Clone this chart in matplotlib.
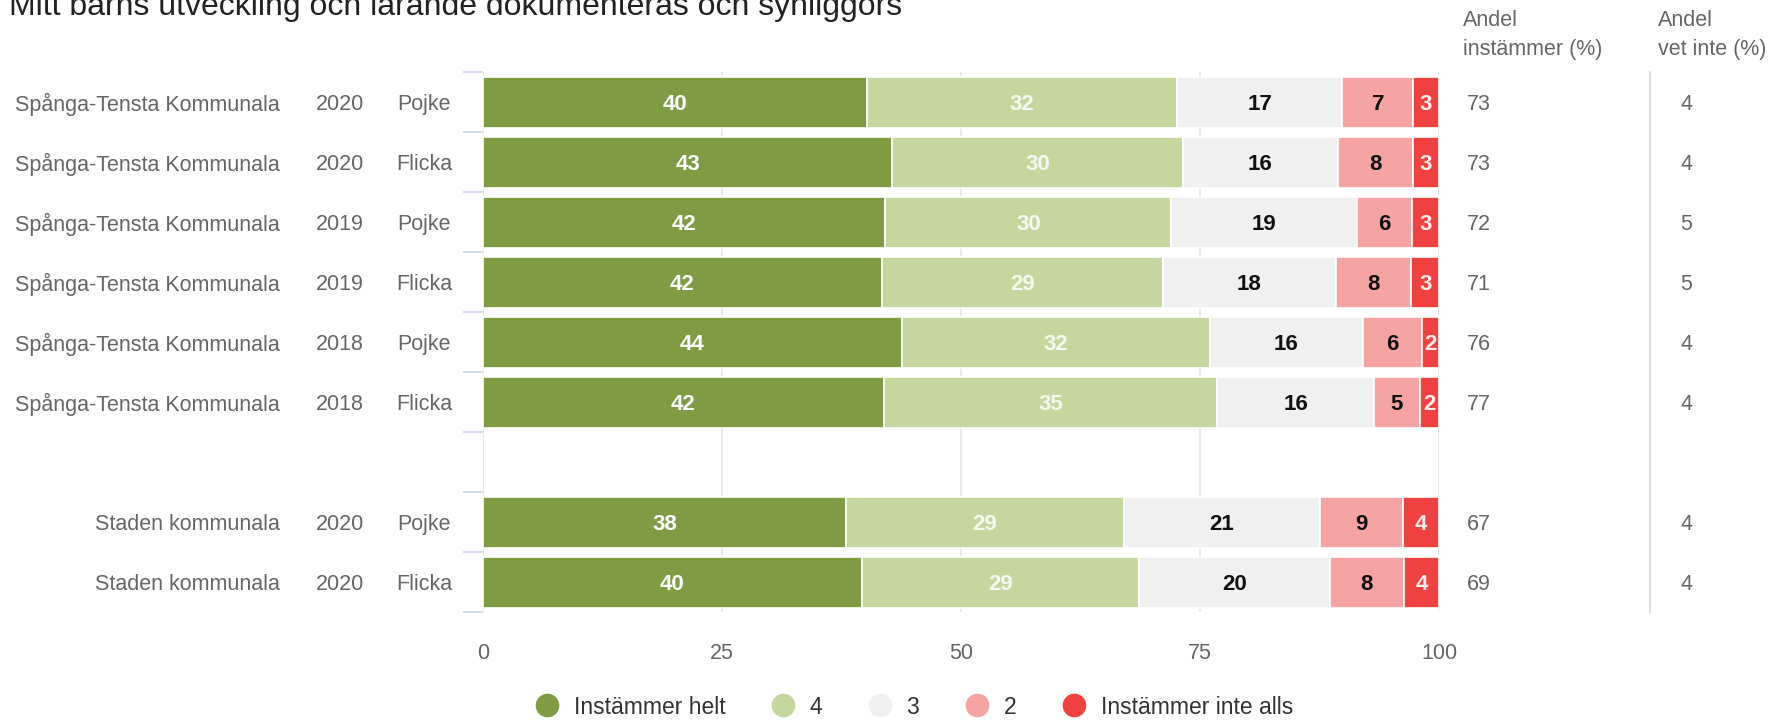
import matplotlib
matplotlib.use("Agg")
import matplotlib.pyplot as plt
from matplotlib.lines import Line2D

plt.rcParams['font.family'] = ['Liberation Sans', 'DejaVu Sans']

# ---- data ----
units = ["Spånga-Tensta Kommunala"] * 6 + ["Staden kommunala"] * 2
years = ["2020", "2020", "2019", "2019", "2018", "2018", "2020", "2020"]
genders = ["Pojke", "Flicka", "Pojke", "Flicka", "Pojke", "Flicka", "Pojke", "Flicka"]

series_names = ["Instämmer helt", "4", "3", "2", "Instämmer inte alls"]
helt = [40.2, 42.8, 42.1, 41.7, 43.8, 41.9, 38.0, 39.6]
s4 = [32.4, 30.4, 29.9, 29.4, 32.2, 34.9, 29.0, 29.0]
s3 = [17.3, 16.2, 19.4, 18.1, 16.0, 16.4, 20.6, 20.0]
s2 = [7.4, 7.9, 5.8, 7.9, 6.2, 4.8, 8.6, 7.7]
inte = [2.7, 2.7, 2.8, 2.9, 1.8, 2.0, 3.8, 3.7]

andel_instammer = [73, 73, 72, 71, 76, 77, 67, 69]
andel_vet_inte = [4, 4, 5, 5, 4, 4, 4, 4]

xticks = [0, 25, 50, 75, 100]
title = "Mitt barns utveckling och lärande dokumenteras och synliggörs"

# ---- style ----
colors = ["#7f9c45", "#c5d79f", "#f0f0f0", "#f5a3a3", "#f04141"]
label_colors = ["white", "white", "#111111", "#111111", "white"]
label_alpha = [1.0, 0.85, 1.0, 1.0, 0.9]
txt_gray = "#666666"
fs = 15.5

W, H = 1785, 721
fig = plt.figure(figsize=(W / 100, H / 100), dpi=100)
ax_l, ax_r, ax_t, ax_b = 483, 1439, 72, 612
ax = fig.add_axes([ax_l / W, 1 - ax_b / H, (ax_r - ax_l) / W, (ax_b - ax_t) / H])

n = len(units)
gap_after = 6
ypos = [i + (1 if i >= gap_after else 0) for i in range(n)]
nslots = n + 1

series = [helt, s4, s3, s2, inte]
left = [0.0] * n
for k, vals in enumerate(series):
    ax.barh(ypos, vals, left=left, height=0.85, color=colors[k],
            edgecolor="white", linewidth=1.2, zorder=2)
    for i, v in enumerate(vals):
        ax.text(left[i] + v / 2, ypos[i], f"{round(v)}", ha="center", va="center_baseline",
                color=label_colors[k], alpha=label_alpha[k], fontsize=16,
                fontweight="bold", zorder=3)
    left = [a + b for a, b in zip(left, vals)]

ax.set_xlim(0, 100)
ax.set_ylim(nslots - 0.5, -0.5)
ax.set_xticks(xticks)
ax.set_xticklabels([str(t) for t in xticks])
ax.tick_params(axis="x", length=0, pad=22, labelsize=fs, labelcolor=txt_gray)
ax.grid(axis="x", color="#e6e6e6", linewidth=1.2, zorder=0)
ax.set_axisbelow(True)
ax.set_yticks([])
ax.set_yticks([y - 0.5 for y in range(nslots + 1)], minor=True)
ax.tick_params(axis="y", which="minor", length=14.4, color="#ccd6eb", width=1.2)
for s in ax.spines.values():
    s.set_visible(False)

ytr = ax.get_yaxis_transform()
axw = ax_r - ax_l
def ax_x(px):
    return (px - ax_l) / axw

for i in range(n):
    ax.text(ax_x(280), ypos[i], units[i], transform=ytr, ha="right", va="center_baseline",
            fontsize=fs, color=txt_gray)
    ax.text(ax_x(340), ypos[i], years[i], transform=ytr, ha="center", va="center_baseline",
            fontsize=fs, color=txt_gray)
    ax.text(ax_x(424), ypos[i], genders[i], transform=ytr, ha="center", va="center_baseline",
            fontsize=fs, color=txt_gray)
    ax.text(ax_x(1467), ypos[i], str(andel_instammer[i]), transform=ytr, ha="left",
            va="center_baseline", fontsize=fs, color=txt_gray)
    ax.text(ax_x(1686), ypos[i], str(andel_vet_inte[i]), transform=ytr, ha="center",
            va="center_baseline", fontsize=fs, color=txt_gray)

# separator line
ax.add_line(Line2D([ax_x(1650)] * 2, [0, 1], transform=ax.transAxes,
                   color="#ccd6eb", linewidth=1.2, clip_on=False))

# column headers
fig.text(1463 / W, 1 - 21 / H, "Andel", ha="left", va="center", fontsize=fs, color=txt_gray)
fig.text(1463 / W, 1 - 49 / H, "instämmer (%)", ha="left", va="center", fontsize=fs, color=txt_gray)
fig.text(1658 / W, 1 - 21 / H, "Andel", ha="left", va="center", fontsize=fs, color=txt_gray)
fig.text(1658 / W, 1 - 49 / H, "vet inte (%)", ha="left", va="center", fontsize=fs, color=txt_gray)

# title (cut at top as in the reference)
fig.text(9 / W, 1 - 15 / H, title, ha="left", va="baseline", fontsize=23, color="#222222")

# legend
handles = [Line2D([0], [0], marker="o", linestyle="none", markersize=16,
                  markerfacecolor=c, markeredgecolor=c) for c in colors]
fig.legend(handles, series_names, loc="center", bbox_to_anchor=(914 / W, 1 - 707 / H),
           ncol=5, frameon=False, fontsize=16.5, handlelength=1.0, handletextpad=0.68,
           columnspacing=2.0, labelcolor="#333333")

fig.savefig("out.png", dpi=100)
